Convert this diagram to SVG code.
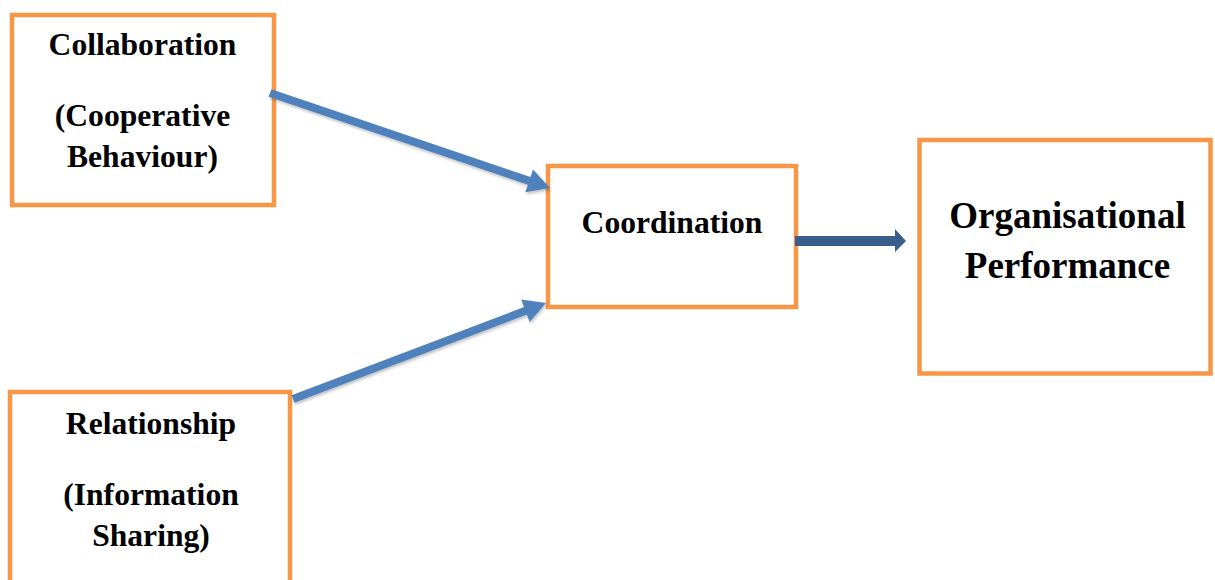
<svg xmlns="http://www.w3.org/2000/svg" width="1215" height="580" viewBox="0 0 1215 580">
  <style>
    .box { fill: #ffffff; stroke: #F79646; stroke-width: 4.5; }
    .lbl { font-family: "Liberation Serif", "Times New Roman", serif; font-weight: bold; fill: #000000; text-anchor: middle; }
    .sm { font-size: 31.6px; }
    .lg { font-size: 37px; }
    .arrow { fill: #4F81BD; filter: url(#soft); }
    .arrow-dark { fill: #3A5E8C; }
  </style>
  <defs>
    <filter id="soft" x="-10%" y="-20%" width="120%" height="140%">
      <feGaussianBlur in="SourceAlpha" stdDeviation="1.5"/>
      <feOffset dx="1" dy="2" result="off"/>
      <feComponentTransfer><feFuncA type="linear" slope="0.25"/></feComponentTransfer>
      <feMerge><feMergeNode/><feMergeNode in="SourceGraphic"/></feMerge>
    </filter>
  </defs>
  <rect width="1215" height="580" fill="#ffffff"/>

  <g id="collaboration">
    <rect class="box" x="12" y="15" width="262" height="190"/>
    <text class="lbl sm" x="142.5" y="55">Collaboration</text>
    <text class="lbl sm" x="142.5" y="126">(Cooperative</text>
    <text class="lbl sm" x="142.5" y="167">Behaviour)</text>
  </g>

  <g id="relationship">
    <rect class="box" x="10" y="392" width="280" height="200"/>
    <text class="lbl sm" x="151" y="434">Relationship</text>
    <text class="lbl sm" x="151" y="505">(Information</text>
    <text class="lbl sm" x="151" y="546">Sharing)</text>
  </g>

  <g id="coordination">
    <rect class="box" x="548" y="166" width="248" height="141"/>
    <text class="lbl sm" x="672" y="233">Coordination</text>
  </g>

  <g id="performance">
    <rect class="box" x="919.5" y="140" width="291" height="233.5"/>
    <text class="lbl lg" x="1067.5" y="228">Organisational</text>
    <text class="lbl lg" x="1067.5" y="278">Performance</text>
  </g>

  <!-- block arrows sit on top of the box borders they touch -->
  <g id="connectors">
    <!-- Collaboration -> Coordination -->
    <polygon class="arrow" points="271.3,89.2 530.5,177.1 533.0,169.6 550,188 525.3,192.3 527.9,184.7 268.7,96.8"/>
    <!-- Relationship -> Coordination -->
    <polygon class="arrow" points="291.6,395.3 524.0,307.1 521.2,299.6 546,303 529.7,322.0 526.9,314.6 294.4,402.7"/>
    <!-- Coordination -> Organisational Performance -->
    <polygon class="arrow-dark" points="795,236 895,236 895,229 906,241 895,252 895,246 795,246"/>
  </g>
</svg>
